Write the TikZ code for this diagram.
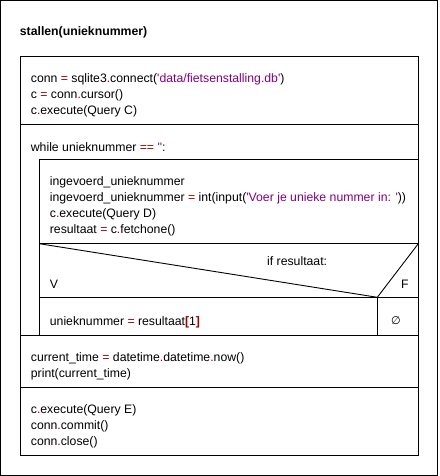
\documentclass[tikz,border=0pt]{standalone}
\usepackage{fontspec}
\setmainfont{Liberation Sans}
\newfontfamily\symbolfont{DejaVu Sans}
\usepackage{tikz}
\usetikzlibrary{calc}

\definecolor{pyred}{RGB}{153,0,0}
\definecolor{pypurple}{RGB}{128,0,128}
\newcommand{\pyop}[1]{\textcolor{pyred}{#1}}
\newcommand{\pystr}[1]{\textcolor{pypurple}{#1}}
\newcommand{\q}{\textquotesingle}

\begin{document}
\begin{tikzpicture}[
        x=1pt, y=-1pt, % een pixel per punt, y naar beneden
        font=\fontsize{12.25}{16}\selectfont,
        box/.style={draw, line width=0.9pt}, % Stijl voor de blokken
        line/.style={line width=0.9pt}, % Stijl voor scheidingslijnen
        code/.style={anchor=base west, inner sep=0pt}, % Stijl voor codetekst
        title/.style={anchor=base west, inner sep=0pt, font=\fontsize{12.25}{16}\selectfont\bfseries}
    ]
        \useasboundingbox (0,0) rectangle (439,476);

        % --- Maten van het diagram ---
        \def\xL{20.7}
        \def\xR{418.3}
        \def\xI{39.3}
        \def\xV{377.3}

        % --- Buitenrand en titel ---
        \draw[box] (0.7,0.7) rectangle (437.7,475.3);
        \node[title] (titel) at (19.7,36) {stallen(unieknummer)};

        % --- Hoofdblok ---
        \draw[box] (\xL,56.7) rectangle (\xR,455.3);
        \draw[line] (\xL,124.7) -- (\xR,124.7);
        \draw[line] (\xL,335.3) -- (\xR,335.3);
        \draw[line] (\xL,387.3) -- (\xR,387.3);

        % Verbinding met de database
        \node[code] (conn) at (30.7,82.7) {conn \pyop{=} sqlite3\pyop{.}connect(\pystr{\q data/fietsenstalling.db\q})};
        \node[code] (cursor) at (30.7,98.7) {c \pyop{=} conn\pyop{.}cursor()};
        \node[code] (queryC) at (30.7,114.7) {c\pyop{.}execute(Query C)};

        % --- While-lus ---
        \node[code] (while) at (30.7,151.2) {while unieknummer \pyop{==} \pystr{\q\q}:};
        \draw[line] (\xR,159.3) -- (\xI,159.3) -- (\xI,335.3);
        \draw[line] (\xI,243.7) -- (\xR,243.7);
        \draw[line] (\xI,297.3) -- (\xR,297.3);

        \node[code] (invoer) at (49.7,185.5) {ingevoerd\_unieknummer};
        \node[code] (invoer2) at (49.7,201.5) {ingevoerd\_unieknummer \pyop{=} int(input(\pystr{\q Voer je unieke nummer in: \q}))};
        \node[code] (queryD) at (49.7,217.5) {c\pyop{.}execute(Query D)};
        \node[code] (resultaat) at (49.7,233.5) {resultaat \pyop{=} c\pyop{.}fetchone()};

        % --- Keuze: if resultaat ---
        \coordinate (punt) at (\xV,297.3);
        \draw[line] (\xI,243.7) -- (punt) -- (\xR,243.7);
        \draw[line] (punt) -- (\xV,335.3);
        \node[code] (als) at (267,265.2) {if resultaat:};
        \node[code] (waar) at (49.7,288.3) {V};
        \node[code] (onwaar) at (401,288.3) {F};
        \node[code] (toekenning) at (49.7,325.2) {unieknummer \pyop{=} resultaat\pyop{\textbf{[}}1\pyop{\textbf{]}}};
        \node[font=\symbolfont\fontsize{11}{13}\selectfont] (leeg) at (396,320.5) {∅};

        % --- Tijd en afsluiten ---
        \node[code] (tijd) at (30.7,361.2) {current\_time \pyop{=} datetime\pyop{.}datetime\pyop{.}now()};
        \node[code] (print) at (30.7,377.2) {print(current\_time)};
        \node[code] (queryE) at (30.7,413.5) {c\pyop{.}execute(Query E)};
        \node[code] (commit) at (30.7,429.5) {conn\pyop{.}commit()};
        \node[code] (sluit) at (30.7,445.5) {conn\pyop{.}close()};

    \end{tikzpicture}
\end{document}
